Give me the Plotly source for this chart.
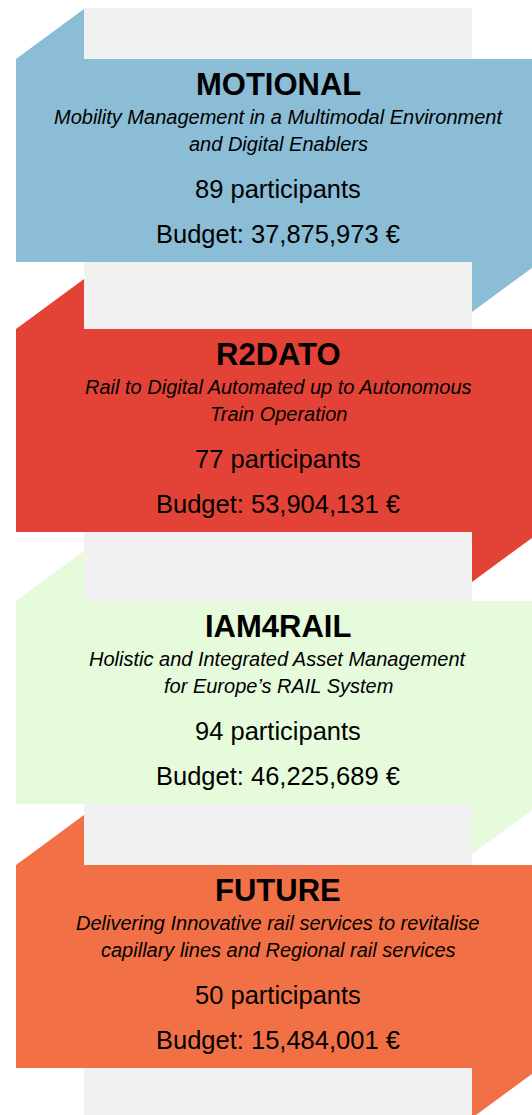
import plotly.graph_objects as go

# ---- data ----
projects = ["MOTIONAL", "R2DATO", "IAM4RAIL", "FUTURE"]
subtitle_line1 = [
    "Mobility Management in a Multimodal Environment",
    "Rail to Digital Automated up to Autonomous",
    "Holistic and Integrated Asset Management",
    "Delivering Innovative rail services to revitalise",
]
subtitle_line2 = [
    "and Digital Enablers",
    "Train Operation",
    "for Europe’s RAIL System",
    "capillary lines and Regional rail services",
]
participants = [89, 77, 94, 50]
budgets = [37875973, 53904131, 46225689, 15484001]

# ---- styles / layout ----
colors = ["#8BBDD6", "#E34336", "#E6FBDC", "#F27045"]
strip_color = "#F1F1F1"
W, H = 532, 1115
banner_tops = [59, 329, 601, 865]
banner_h = 203
left_x, strip_l, strip_r, right_x = 16, 84, 472, 540
tri_h = 50
text_x = (strip_l + strip_r) / 2
FONT = "Liberation Sans, Arial, sans-serif"

fig = go.Figure()

# background strip
fig.add_trace(go.Scatter(
    x=[strip_l, strip_r, strip_r, strip_l, strip_l],
    y=[8, 8, H + 5, H + 5, 8],
    fill="toself", fillcolor=strip_color, mode="lines",
    line=dict(width=0, color=strip_color), hoverinfo="skip", showlegend=False,
))

annotations = []
for i, name in enumerate(projects):
    top = banner_tops[i]
    bot = top + banner_h
    xs = [left_x, strip_l, strip_l, right_x, right_x, strip_r, strip_r, left_x, left_x]
    ys = [top, top - tri_h, top, top, bot, bot + tri_h, bot, bot, top]
    fig.add_trace(go.Scatter(
        x=xs, y=ys, fill="toself", fillcolor=colors[i], mode="lines",
        line=dict(width=0, color=colors[i]), hoverinfo="skip", showlegend=False,
    ))
    lines = [
        (f"<b>{name}</b>", 31, 25.7),
        (f"<i>{subtitle_line1[i]}</i>", 20, 57.7),
        (f"<i>{subtitle_line2[i]}</i>", 20, 84.5),
        (f"{participants[i]} participants", 25.5, 130),
        (f"Budget: {budgets[i]:,} €", 25.5, 175.3),
    ]
    for txt, size, dy in lines:
        annotations.append(dict(
            x=text_x, y=top + dy, xref="x", yref="y", text=txt,
            showarrow=False, xanchor="center", yanchor="middle",
            font=dict(family=FONT, size=size, color="#000000"),
        ))

fig.update_layout(
    width=W, height=H,
    margin=dict(l=0, r=0, t=0, b=0),
    paper_bgcolor="white", plot_bgcolor="white",
    xaxis=dict(range=[0, W], visible=False, fixedrange=True),
    yaxis=dict(range=[H, 0], visible=False, fixedrange=True),
    annotations=annotations,
    showlegend=False,
)

fig.write_html(
    "out.html",
    config={"displayModeBar": False},
    post_script="document.body.style.margin='0';document.body.style.overflow='hidden';",
)
